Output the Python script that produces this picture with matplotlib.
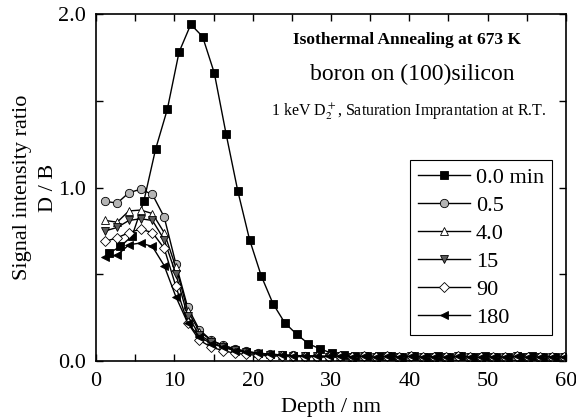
import matplotlib
matplotlib.use('Agg')
import matplotlib.pyplot as plt
from matplotlib.ticker import MultipleLocator

plt.rcParams['font.family'] = ['Liberation Serif', 'DejaVu Serif']
plt.rcParams['mathtext.fontset'] = 'stix'

# depth grid of the squares (0.0 min) and of the annealed series
depth_sq = [1.6, 3.1, 4.6, 6.1, 7.6, 9.1, 10.6, 12.1, 13.6, 15.1,
            16.6, 18.1, 19.6, 21.1, 22.6, 24.1, 25.6, 27.1, 28.6, 30.1,
            31.6, 33.1, 34.6, 36.1, 37.6, 39.1, 40.6, 42.1, 43.6, 45.1,
            46.6, 48.1, 49.6, 51.1, 52.6, 54.1, 55.6, 57.1, 58.6, 60.0]
depth = [1.2, 2.7, 4.2, 5.7, 7.2, 8.7, 10.2, 11.7, 13.2, 14.7,
         16.2, 17.7, 19.2, 20.7, 22.2, 23.7, 25.2, 26.7, 28.2, 29.7,
         31.2, 32.7, 34.2, 35.7, 37.2, 38.7, 40.2, 41.7, 43.2, 44.7,
         46.2, 47.7, 49.2, 50.7, 52.2, 53.7, 55.2, 56.7, 58.2, 59.7]

tail = [0.030, 0.025, 0.028, 0.022, 0.026, 0.024, 0.027, 0.023, 0.025, 0.022,
        0.026, 0.024, 0.021, 0.025, 0.023, 0.026, 0.022, 0.024, 0.025, 0.023]

r_0 = [0.62, 0.66, 0.72, 0.92, 1.22, 1.45, 1.78, 1.94, 1.87, 1.66,
       1.31, 0.98, 0.70, 0.49, 0.33, 0.22, 0.155, 0.10, 0.07, 0.045,
       0.035, 0.030, 0.028, 0.026, 0.030, 0.024, 0.027, 0.025, 0.028, 0.023,
       0.026, 0.024, 0.027, 0.022, 0.025, 0.024, 0.026, 0.023, 0.025, 0.024]
r_05 = [0.92, 0.91, 0.97, 0.99, 0.96, 0.83, 0.56, 0.31, 0.18, 0.12,
        0.09, 0.07, 0.055, 0.045, 0.040, 0.035, 0.032, 0.030, 0.028, 0.027] + tail
r_4 = [0.81, 0.80, 0.865, 0.87, 0.85, 0.74, 0.54, 0.29, 0.17, 0.12,
       0.09, 0.07, 0.055, 0.045, 0.040, 0.034, 0.031, 0.029, 0.027, 0.026] + tail
r_15 = [0.75, 0.77, 0.81, 0.82, 0.81, 0.70, 0.50, 0.26, 0.15, 0.11,
        0.08, 0.065, 0.05, 0.042, 0.037, 0.033, 0.030, 0.028, 0.026, 0.025] + tail
r_90 = [0.69, 0.71, 0.74, 0.76, 0.74, 0.65, 0.43, 0.22, 0.12, 0.08,
        0.06, 0.045, 0.038, 0.033, 0.030, 0.028, 0.026, 0.025, 0.024, 0.023] + tail
r_180 = [0.60, 0.61, 0.67, 0.68, 0.66, 0.55, 0.37, 0.22, 0.14, 0.10,
         0.08, 0.06, 0.05, 0.044, 0.038, 0.034, 0.031, 0.029, 0.027, 0.026] + tail

labels = ['0.0 min', '0.5', '4.0', '15', '90', '180']

fig = plt.figure(figsize=(5.76, 4.19), dpi=100)
ax = fig.add_axes([0.1667, 0.1384, 0.8159, 0.8282])

styles = [
    (depth_sq, r_0, 's', 'black'),
    (depth, r_05, 'o', '#b4b4b4'),
    (depth, r_4, '^', 'white'),
    (depth, r_15, 'v', '#5a5a5a'),
    (depth, r_90, 'D', 'white'),
    (depth, r_180, '<', 'black'),
]
for (x, y, m, fc), lab in zip(styles, labels):
    ms = 5.0 if m == 'D' else 6.0
    ax.plot(x, y, color='black', lw=1.0, marker=m, markersize=ms,
            markerfacecolor=fc, markeredgecolor='black', markeredgewidth=0.6,
            label=lab)

ax.set_xlim(0, 60)
ax.set_ylim(0, 2.0)
ax.xaxis.set_major_locator(MultipleLocator(10))
ax.xaxis.set_minor_locator(MultipleLocator(5))
ax.yaxis.set_major_locator(MultipleLocator(1.0))
ax.yaxis.set_minor_locator(MultipleLocator(0.5))
ax.yaxis.set_major_formatter(matplotlib.ticker.FormatStrFormatter('%.1f'))
ax.tick_params(which='both', direction='in', top=True, right=True,
               labelsize=16, width=1.0, length=5)
ax.tick_params(axis='x', pad=8)
ax.tick_params(axis='y', pad=7)
for s in ax.spines.values():
    s.set_linewidth(1.2)

ax.set_xlabel('Depth / nm', fontsize=16, labelpad=5)
ax.set_ylabel('Signal intensity ratio\nD / B', fontsize=16, labelpad=0,
              linespacing=1.5)

ax.text(0.662, 0.925, 'Isothermal Annealing at 673 K', transform=ax.transAxes,
        ha='center', va='center', fontsize=12.5, fontweight='bold')
ax.text(0.672, 0.826, 'boron on (100)silicon', transform=ax.transAxes,
        ha='center', va='center', fontsize=17)
ax.text(0.665, 0.718, r'1 keV D$_2^+$, Saturation Imprantation at R.T.',
        transform=ax.transAxes, ha='center', va='center', fontsize=11.5)

leg = ax.legend(loc='upper right', bbox_to_anchor=(0.97, 0.58), fontsize=16,
                handlelength=2.35, handletextpad=0.25, labelspacing=0.33,
                borderpad=0.35, borderaxespad=0, fancybox=False, framealpha=1)
leg.get_frame().set_edgecolor('black')
leg.get_frame().set_linewidth(0.8)

fig.savefig('out.png', dpi=100)
